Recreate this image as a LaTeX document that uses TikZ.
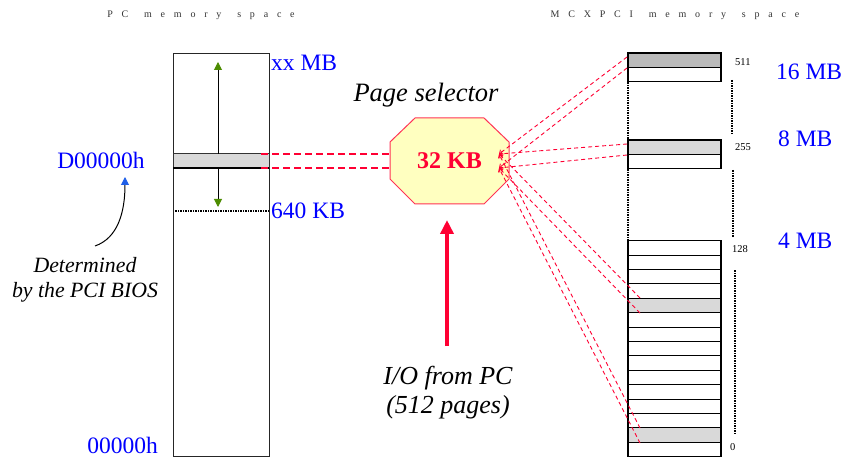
\documentclass[tikz,border=0pt]{standalone}
\usepackage{fontspec}
\setmainfont{Liberation Serif}
\usetikzlibrary{arrows.meta}
\definecolor{lblue}{HTML}{0000FF}
\definecolor{pred}{HTML}{FF0033}
\definecolor{octfill}{HTML}{FFFFC0}
\definecolor{octline}{HTML}{FF3355}
\definecolor{ggreen}{HTML}{4C8C00}
\definecolor{tipblue}{HTML}{1F5FE8}
\newcommand\ls{\hspace{8.8pt}}
\newcommand\ws{\hspace{15.8pt}}
\begin{document}
\begin{tikzpicture}[x=1pt,y=-1pt,
  title/.style={font=\fontsize{10}{10}\selectfont, text=black!80, inner sep=0},
  memcol/.style={draw=black!85, line width=0.9pt, inner sep=0, outer sep=0, anchor=north west, minimum width=96pt, minimum height=403pt},
  page/.style={draw=black, line width=1.1pt, fill=white, inner sep=0, outer sep=0, anchor=north west, minimum width=93pt, minimum height=14.4pt},
  lgray/.style={fill=black!15},
  dgray/.style={fill=black!27},
  bluelbl/.style={text=lblue, font=\fontsize{23.5}{23.5}\selectfont, inner sep=0},
  numlbl/.style={font=\fontsize{10.5}{10.5}\selectfont, inner sep=0, anchor=west},
  itlbl/.style={font=\fontsize{21.8}{25}\selectfont\itshape, inner sep=0, align=center},
  dotline/.style={line width=1.4pt, dash pattern=on 2pt off 1pt on 1pt off 1pt},
  mapline/.style={pred, line width=0.9pt, dash pattern=on 4pt off 3pt, -{Straight Barb[length=3pt,width=5pt,line width=0.9pt]}},
  bandline/.style={pred, line width=1.5pt, dash pattern=on 7pt off 4pt}
]
\useasboundingbox (0,0) rectangle (846,457);

% titles
\node[title] (t1) at (201,15) {P\ls C\ws m\ls e\ls m\ls o\ls r\ls y\ws s\ls p\ls a\ls c\ls e};
\node[title] (t2) at (675,15) {M\ls C\ls X\ls P\ls C\ls I\ws m\ls e\ls m\ls o\ls r\ls y\ws s\ls p\ls a\ls c\ls e};

% PC memory column
\node[memcol] (pcmem) at (173,53) {};
\node[draw=black!80, line width=1pt, fill=black!15, inner sep=0, outer sep=0, anchor=north west, minimum width=96pt, minimum height=14pt] (band) at (173,154) {};
\draw[black, line width=2pt] (band.south west) -- (band.south east);
\coordinate (gtop) at (218,62);
\coordinate (gbot) at (218,207);
\draw[line width=1pt, -{Triangle[length=8pt,width=8pt,color=ggreen]}] (band.north -| gtop) -- (gtop);
\draw[line width=1pt, -{Triangle[length=8pt,width=8pt,color=ggreen]}] (band.south -| gbot) -- (gbot);
\coordinate (k640a) at (175,211);
\coordinate (k640b) at (269,211);
\draw[dotline] (k640a) -- (k640b);

\node[bluelbl, anchor=west] (xxmb) at (271,63) {xx MB};
\node[bluelbl, anchor=west] (k640) at (271,211) {640 KB};
\node[bluelbl] (d0) at (101,160) {D00000h};
\node[bluelbl, anchor=base east] (z0) at (158,453) {00000h};

\node[itlbl] (det) at (85,280) {Determined\\by the PCI BIOS};
\coordinate (cstart) at (95,246);
\coordinate (cend) at (125,177);
\draw[line width=1pt, -{Triangle[length=8pt,width=8pt,color=tipblue]}] (cstart) .. controls (118,238) and (125,212) .. (cend);

% page selector
\draw[octline, fill=octfill, line width=1pt] (415,118) -- (484,118) -- (509,142) -- (509,179) -- (484,204) -- (415,204) -- (390,179) -- (390,142) -- cycle;
\node[inner sep=0, minimum width=119pt, minimum height=86pt, text=pred, font=\fontsize{24}{24}\selectfont\bfseries] (sel) at (449.5,161) {32 KB};
\node[inner sep=0, font=\fontsize{26.5}{26.5}\selectfont\itshape] (pslbl) at (426,95) {Page selector};

% band to selector
\draw[bandline] (band.north east) ++(-8,0) -- (sel.west |- band.north);
\draw[bandline] (band.south east) ++(-8,0) -- (sel.west |- band.south);

% I/O arrow
\node[itlbl, font=\fontsize{26}{29}\selectfont\itshape] (io) at (448,393) {I/O from PC\\(512 pages)};
\coordinate (ioa) at (447,346);
\coordinate (iob) at (447,220);
\draw[pred, line width=3.5pt, -{Triangle[length=14pt,width=13pt]}] (ioa) -- (iob);

% MCXPCI memory column
\node[page, dgray] (p511) at (628,53) {};
\node[page] (p511b) at (628,67.4) {};
\node[page, lgray] (p255) at (628,140) {};
\node[page] (p255b) at (628,154.4) {};
\foreach \i in {0,...,14} {
  \pgfmathsetmacro\yy{240.7+14.4*\i}
  \ifnum\i=4 \node[page, lgray] (r\i) at (628,\yy) {};
  \else\ifnum\i=13 \node[page, lgray] (r\i) at (628,\yy) {};
  \else \node[page] (r\i) at (628,\yy) {};
  \fi\fi
}

\draw[dotline] (p511b.south west) -- (p255.north west);
\draw[dotline] (p255b.south west) -- (r0.north west);
\coordinate (d1a) at (732,80);  \coordinate (d1b) at (732,135);
\coordinate (d2a) at (733,170); \coordinate (d2b) at (733,237);
\coordinate (d3a) at (735,270); \coordinate (d3b) at (735,435);
\draw[dotline] (d1a) -- (d1b);
\draw[dotline] (d2a) -- (d2b);
\draw[dotline] (d3a) -- (d3b);

\node[numlbl] (n511) at (735,62) {511};
\node[numlbl] (n255) at (735,147) {255};
\node[numlbl] (n128) at (732,249) {128};
\node[numlbl] (n0) at (730,447) {0};

\node[bluelbl, anchor=west] (m16) at (776,72) {16 MB};
\node[bluelbl, anchor=west] (m8) at (778,139) {8 MB};
\node[bluelbl, anchor=west] (m4) at (778,241) {4 MB};

% mapping lines
\coordinate (selT) at (499,154);
\coordinate (selB) at (499,168);
\coordinate (a1) at (627,57);  \coordinate (a2) at (627,68);
\coordinate (b1) at (627,144); \coordinate (b2) at (627,155);
\coordinate (c1) at (640,298); \coordinate (c2) at (640,313);
\coordinate (e1) at (640,428); \coordinate (e2) at (640,443);
\foreach \s/\t in {a1/selT, a2/selB, b1/selT, b2/selB, c1/selT, c2/selB, e1/selT, e2/selB}
  \draw[mapline] (\s) -- (\t);
\end{tikzpicture}
\end{document}
